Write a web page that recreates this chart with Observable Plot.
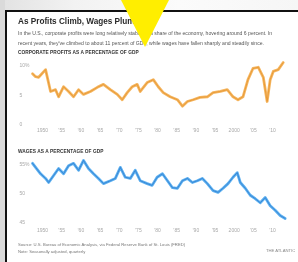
<!DOCTYPE html>
<html>
<head>
<meta charset="utf-8">
<script src="https://cdn.jsdelivr.net/npm/d3@7"></script>
<script src="https://cdn.jsdelivr.net/npm/@observablehq/plot@0.6"></script>
<style>
  html, body { margin: 0; padding: 0; }
  body { width: 298px; height: 262px; position: relative; overflow: hidden; background: #fff;
         font-family: "Liberation Sans", Arial, sans-serif; }
  .abs { position: absolute; }
  #card { position: absolute; left: 0; top: 0; width: 298px; height: 262px; filter: blur(0.35px); }
  .t { position: absolute; left: 18px; white-space: nowrap; }
</style>
</head>
<body>
<div class="abs" style="left:0;top:0;width:298px;height:10px;background:linear-gradient(to right,#e2e2e2,#f2f2f2 25%,#fbfbfb 60%,#f6f6f6);"></div>
<div class="abs" style="left:0;top:0;width:5px;height:262px;background:#dadada;"></div>
<div class="abs" style="left:5px;top:10px;width:293px;height:2px;background:#111;"></div>
<div class="abs" style="left:5px;top:10px;width:2px;height:252px;background:#111;"></div>
<div id="card">
  <div class="t" style="top:16px;font-size:8.2px;font-weight:bold;color:#2a2a2a;line-height:11px;">As Profits Climb, Wages Plummet</div>
  <div class="t" style="top:29px;font-size:5.1px;color:#555;line-height:9.6px;">In the U.S., corporate profits were long relatively stable as a share of the economy, hovering around 6 percent. In<br>recent years, they've climbed to about 11 percent of GDP, while wages have fallen sharply and steadily since.</div>
  <div class="t" id="h1" style="top:50px;font-size:4.8px;font-weight:bold;color:#333;line-height:5.5px;letter-spacing:0.05px;">CORPORATE PROFITS AS A PERCENTAGE OF GDP</div>
  <div class="abs" id="c1" style="left:0;top:56px;"></div>
  <div class="t" id="h2" style="top:148.5px;font-size:4.8px;font-weight:bold;color:#333;line-height:5.5px;letter-spacing:0.05px;">WAGES AS A PERCENTAGE OF GDP</div>
  <div class="abs" id="c2" style="left:0;top:155px;"></div>
  <div class="t" style="top:242px;font-size:4.2px;color:#777;line-height:6.5px;">Source: U.S. Bureau of Economic Analysis, via Federal Reserve Bank of St. Louis (FRED)<br>Note: Seasonally adjusted, quarterly</div>
  <div class="abs" style="left:266px;top:248px;font-size:4.2px;color:#888;white-space:nowrap;">THE ATLANTIC</div>
</div>
<div class="abs" style="left:121px;top:0;width:48px;height:47px;background:#ffee00;clip-path:polygon(0 0,100% 0,50% 100%);"></div>
<script>
// Corporate profits as % of GDP
const profitYears = [1947.4,1948.2,1949.0,1950.8,1952.1,1953.4,1954.2,1955.5,1956.8,1958.1,1959.4,1960.7,1962.5,1964.3,1965.9,1967.7,1969.5,1970.8,1972.1,1973.4,1974.7,1975.5,1977.3,1978.9,1980.2,1981.5,1983.3,1985.2,1986.5,1987.8,1989.3,1991.1,1993.0,1994.5,1996.4,1998.2,1999.7,2001.0,2002.3,2003.6,2004.9,2006.3,2007.6,2008.6,2009.4,2010.2,2011.5,2012.8];
const profitValues = [8.6,8.1,8.0,9.3,5.6,5.9,4.7,6.4,5.6,4.7,5.9,5.1,5.6,6.3,6.8,5.9,5.1,4.2,5.4,6.4,6.8,5.6,7.1,7.6,6.4,5.4,4.7,4.2,3.1,3.9,4.2,4.6,4.7,5.4,5.6,5.9,4.7,4.2,4.7,7.6,9.5,9.7,8.0,3.9,7.6,9.0,9.3,10.5];
// Wages as % of GDP
const wageYears = [1947.4,1948.2,1949.5,1950.8,1951.6,1952.9,1954.2,1955.5,1956.8,1958.1,1959.4,1960.7,1962.0,1963.3,1964.6,1965.9,1967.7,1969.0,1970.3,1971.6,1972.9,1974.2,1975.5,1977.3,1978.6,1979.9,1981.3,1982.6,1983.9,1985.2,1986.5,1987.8,1989.1,1990.4,1991.7,1993.0,1994.5,1995.8,1997.1,1998.4,1999.7,2000.8,2001.6,2002.9,2004.2,2005.5,2006.8,2008.1,2009.4,2010.7,2012.0,2013.3];
const wageValues = [55.2,54.5,53.4,52.6,51.9,53.1,54.3,53.4,54.8,55.2,54.0,55.7,54.3,53.4,52.6,51.7,52.2,52.6,54.5,52.8,52.6,54.0,52.2,51.7,51.4,52.8,53.4,52.2,51.0,50.9,52.2,52.6,51.9,52.2,52.6,51.7,50.5,50.2,50.9,51.7,52.8,53.6,51.9,50.9,49.7,49.1,48.4,49.3,47.9,47.1,46.2,45.7];
const xTicks = [1950,1955,1960,1965,1970,1975,1980,1985,1990,1995,2000,2005,2010];
const profitTicks = [0,5,10];
const profitTickLabels = ["0","5","10%"];
const wageTicks = [45,50,55];
const wageTickLabels = ["45","50","55%"];

const fmtYear = d => (d === 1950 || d === 2000) ? String(d) : "\u2019" + String(d).slice(2);
const profits = profitYears.map((y, i) => ({year: y, value: profitValues[i]}));
const wages = wageYears.map((y, i) => ({year: y, value: wageValues[i]}));

function chart(data, yDomain, yTicks, yLabels, colors, mt, mb, h, pad) {
  return Plot.plot({
    width: 298, height: h,
    marginLeft: 42, marginRight: 26, marginTop: mt, marginBottom: mb,
    style: {background: "transparent", fontFamily: "Liberation Sans, Arial, sans-serif", fontSize: "5px", color: "#aaa", overflow: "visible"},
    x: {domain: [1950, 2010]},
    y: {domain: yDomain},
    marks: [
      Plot.axisX({ticks: xTicks, tickFormat: fmtYear, tickSize: 0, tickPadding: pad, label: null, fill: "#a8a8a8", fontSize: 5}),
      Plot.axisY({ticks: yTicks, tickFormat: d => yLabels[yTicks.indexOf(d)], tickSize: 0, tickPadding: 23, textAnchor: "start", label: null, fill: "#a8a8a8", fontSize: 5}),
      Plot.line(data, {x: "year", y: "value", stroke: colors[0], strokeWidth: 2.8, strokeLinejoin: "round", strokeLinecap: "round"}),
      Plot.line(data, {x: "year", y: "value", stroke: colors[1], strokeWidth: 0.9, strokeLinejoin: "round", strokeOpacity: 0.7})
    ]
  });
}

document.getElementById("c1").appendChild(
  chart(profits, [0, 10], profitTicks, profitTickLabels, ["#f5b660", "#e08a22"], 9, 12, 80, 3.5));
document.getElementById("c2").appendChild(
  chart(wages, [45, 55], wageTicks, wageTickLabels, ["#5cb0f0", "#2370c8"], 9, 13, 80, 6));
</script>
</body>
</html>
